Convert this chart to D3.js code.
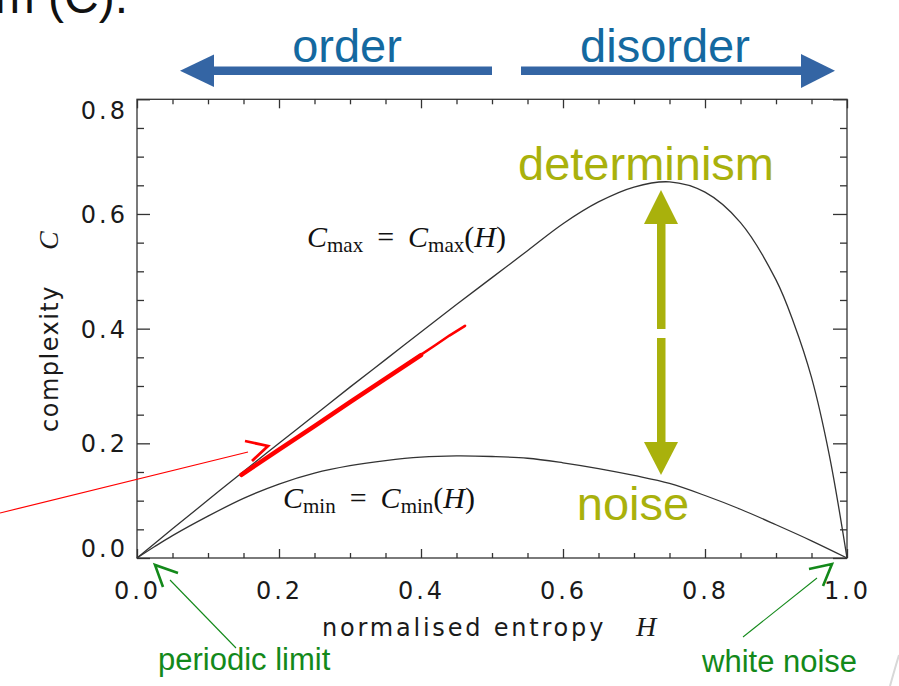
<!DOCTYPE html>
<html><head><meta charset="utf-8">
<script src="https://cdn.jsdelivr.net/npm/d3@7"></script>
<style>body{margin:0;background:#fff}svg{display:block}</style>
</head><body>
<svg id="c" width="899" height="686"></svg>
<script>
// ---- data ----
const cmaxH = [0, 0.05, 0.1, 0.15, 0.2, 0.25, 0.3, 0.35, 0.4, 0.45, 0.5, 0.55, 0.6, 0.65, 0.7, 0.75, 0.8, 0.85, 0.9, 0.925, 0.95, 0.975, 1.0];
const cmaxC = [0, 0.051, 0.101, 0.151, 0.200, 0.249, 0.298, 0.346, 0.394, 0.442, 0.489, 0.536, 0.583, 0.621, 0.647, 0.656, 0.638, 0.585, 0.485, 0.410, 0.315, 0.180, 0];
const cminH = [0, 0.025, 0.05, 0.1, 0.15, 0.2, 0.25, 0.3, 0.35, 0.4, 0.45, 0.5, 0.55, 0.6, 0.65, 0.7, 0.75, 0.8, 0.85, 0.9, 0.95, 1.0];
const cminC = [0, 0.020, 0.039, 0.073, 0.104, 0.129, 0.148, 0.161, 0.170, 0.176, 0.178, 0.177, 0.174, 0.166, 0.156, 0.144, 0.130, 0.109, 0.085, 0.058, 0.030, 0];
const redH = [0.147, 0.2, 0.25, 0.3, 0.35, 0.4];
const redC = [0.145, 0.189, 0.230, 0.272, 0.313, 0.354];
const redTipH = [0.38, 0.42, 0.44, 0.462];
const redTipC = [0.338, 0.371, 0.388, 0.405];
const xMajor = [0, 0.2, 0.4, 0.6, 0.8, 1.0];
const xLabels = ["0.0", "0.2", "0.4", "0.6", "0.8", "1.0"];
const yMajor = [0, 0.2, 0.4, 0.6, 0.8];
const yLabels = ["0.0", "0.2", "0.4", "0.6", "0.8"];
const minorStep = 0.05;

// ---- layout ----
const svg = d3.select("#c");
const x = d3.scaleLinear().domain([0, 1]).range([137, 847]);
const y = d3.scaleLinear().domain([0, 0.8]).range([558, 99.3]);
const xMinor = d3.range(0, 1.0001, minorStep).filter(v => !xMajor.some(m => Math.abs(m - v) < 1e-6));
const yMinor = d3.range(0, 0.8001, minorStep).filter(v => !yMajor.some(m => Math.abs(m - v) < 1e-6));
const axisCol = "#333";

// top-left cut-off text (cut off in the source picture too)
svg.append("text").attr("x", 128).attr("y", 13).attr("text-anchor", "end")
  .attr("font-family", "Liberation Sans, Arial, sans-serif").attr("font-size", 48).attr("fill", "#111")
  .text("um (C).");

// frame
svg.append("rect").attr("x", 137).attr("y", 99.3).attr("width", 710).attr("height", 558 - 99.3)
  .attr("fill", "none").attr("stroke", axisCol).attr("stroke-width", 1.3);

const tickFont = "DejaVu Sans, Verdana, sans-serif";
function styleAxis(g) {
  g.select(".domain").remove();
  g.selectAll("line").attr("stroke", axisCol).attr("stroke-width", 1.3);
  g.selectAll("text").attr("font-family", tickFont).attr("font-size", 24).attr("fill", "#1a1a1a").attr("letter-spacing", "3px");
}
// bottom
svg.append("g").attr("transform", "translate(0,558)")
  .call(d3.axisBottom(x).tickValues(xMajor).tickFormat((d, i) => xLabels[i]).tickSizeInner(-9).tickSizeOuter(0).tickPadding(24))
  .call(styleAxis);
svg.append("g").attr("transform", "translate(0,558)")
  .call(d3.axisBottom(x).tickValues(xMinor).tickFormat("").tickSizeInner(-5).tickSizeOuter(0)).call(styleAxis);
// top
svg.append("g").attr("transform", "translate(0,99.3)")
  .call(d3.axisTop(x).tickValues(xMajor).tickFormat("").tickSizeInner(-9).tickSizeOuter(0)).call(styleAxis);
svg.append("g").attr("transform", "translate(0,99.3)")
  .call(d3.axisTop(x).tickValues(xMinor).tickFormat("").tickSizeInner(-5).tickSizeOuter(0)).call(styleAxis);
// left
const yl = svg.append("g").attr("transform", "translate(137,0)")
  .call(d3.axisLeft(y).tickValues(yMajor).tickFormat((d, i) => yLabels[i]).tickSizeInner(-13).tickSizeOuter(0).tickPadding(9))
  .call(styleAxis);
yl.selectAll(".tick text").attr("dy", d => d === 0.8 ? "0.8em" : d === 0 ? "-0.05em" : "0.35em");
svg.append("g").attr("transform", "translate(137,0)")
  .call(d3.axisLeft(y).tickValues(yMinor).tickFormat("").tickSizeInner(-7).tickSizeOuter(0)).call(styleAxis);
// right
svg.append("g").attr("transform", "translate(847,0)")
  .call(d3.axisRight(y).tickValues(yMajor).tickFormat("").tickSizeInner(-14).tickSizeOuter(0)).call(styleAxis);
svg.append("g").attr("transform", "translate(847,0)")
  .call(d3.axisRight(y).tickValues(yMinor).tickFormat("").tickSizeInner(-7).tickSizeOuter(0)).call(styleAxis);

// axis titles
const xt = svg.append("text").attr("x", 322).attr("y", 636).attr("font-family", tickFont).attr("font-size", 24)
  .attr("fill", "#1a1a1a").attr("letter-spacing", "2.8px");
xt.append("tspan").text("normalised entropy");
xt.append("tspan").attr("x", 636).attr("font-family", "Liberation Serif, Times New Roman, serif").attr("font-style", "italic")
  .attr("font-size", 28).attr("letter-spacing", "0px").text("H");
const yt = svg.append("text").attr("transform", "translate(58,432) rotate(-90)").attr("font-family", tickFont)
  .attr("font-size", 24).attr("fill", "#1a1a1a").attr("letter-spacing", "1.5px");
yt.append("tspan").text("complexity");
yt.append("tspan").attr("x", 182).attr("font-family", "Liberation Serif, Times New Roman, serif").attr("font-style", "italic")
  .attr("font-size", 28).attr("letter-spacing", "0px").text("C");

// curves
const line = d3.line().x(d => x(d[0])).y(d => y(d[1])).curve(d3.curveCatmullRom.alpha(0.5));
svg.append("path").attr("d", line(cmaxH.map((h, i) => [h, cmaxC[i]])))
  .attr("fill", "none").attr("stroke", "#333").attr("stroke-width", 1.3);
svg.append("path").attr("d", line(cminH.map((h, i) => [h, cminC[i]])))
  .attr("fill", "none").attr("stroke", "#333").attr("stroke-width", 1.3);

// red data band
const lineL = d3.line().x(d => x(d[0])).y(d => y(d[1]));
svg.append("path").attr("d", lineL(redH.map((h, i) => [h, redC[i]])))
  .attr("fill", "none").attr("stroke", "#f00").attr("stroke-width", 4.5).attr("stroke-linecap", "round");
svg.append("path").attr("d", lineL(redTipH.map((h, i) => [h, redTipC[i]])))
  .attr("fill", "none").attr("stroke", "#f00").attr("stroke-width", 2.6).attr("stroke-linecap", "round");

// curve labels (math)
const serif = "Liberation Serif, Times New Roman, serif";
function mathLabel(px, py, sub) {
  const t = svg.append("text").attr("x", px).attr("y", py).attr("font-family", serif).attr("font-size", 30).attr("fill", "#111");
  t.append("tspan").attr("font-style", "italic").text("C");
  t.append("tspan").attr("font-size", 21).attr("dy", 5).text(sub);
  t.append("tspan").attr("dy", -5).attr("dx", 14).text("=");
  t.append("tspan").attr("dx", 14).attr("font-style", "italic").text("C");
  t.append("tspan").attr("font-size", 21).attr("dy", 5).text(sub);
  t.append("tspan").attr("dy", -5).text("(");
  t.append("tspan").attr("font-style", "italic").text("H");
  t.append("tspan").text(")");
}
mathLabel(307, 247, "max");
mathLabel(283, 508, "min");

// top order / disorder arrows
const blue = "#3465a4", blueText = "#1469a0";
svg.append("rect").attr("x", 212).attr("y", 66.5).attr("width", 280).attr("height", 8.5).attr("fill", blue);
svg.append("path").attr("d", "M180,70.7 L214,54.5 L214,87 Z").attr("fill", blue);
svg.append("rect").attr("x", 521).attr("y", 66.5).attr("width", 283).attr("height", 8.5).attr("fill", blue);
svg.append("path").attr("d", "M835,70.7 L801,54 L801,88 Z").attr("fill", blue);
const sans = "Liberation Sans, Arial, sans-serif";
svg.append("text").attr("x", 347).attr("y", 62).attr("text-anchor", "middle").attr("font-family", sans)
  .attr("font-size", 47).attr("fill", blueText).text("order");
svg.append("text").attr("x", 665).attr("y", 62).attr("text-anchor", "middle").attr("font-family", sans)
  .attr("font-size", 47).attr("fill", blueText).text("disorder");

// determinism / noise
const olive = "#a9b10c";
svg.append("text").attr("x", 646).attr("y", 180).attr("text-anchor", "middle").attr("font-family", sans)
  .attr("font-size", 47).attr("fill", olive).text("determinism");
svg.append("text").attr("x", 633).attr("y", 520).attr("text-anchor", "middle").attr("font-family", sans)
  .attr("font-size", 47).attr("fill", olive).text("noise");
svg.append("path").attr("d", "M661,190 L678,224 L644,224 Z").attr("fill", olive);
svg.append("rect").attr("x", 657).attr("y", 223).attr("width", 8.5).attr("height", 106).attr("fill", olive);
svg.append("rect").attr("x", 657).attr("y", 338).attr("width", 8.5).attr("height", 105).attr("fill", olive);
svg.append("path").attr("d", "M661,475 L678,442 L644,442 Z").attr("fill", olive);

// red pointer
svg.append("line").attr("x1", 0).attr("y1", 513).attr("x2", 248).attr("y2", 452).attr("stroke", "#f00").attr("stroke-width", 1.2);
svg.append("path").attr("d", "M245,441 L268,446 L252,461").attr("fill", "none").attr("stroke", "#f00").attr("stroke-width", 2.8);

// green annotations
const green = "#13891a";
svg.append("path").attr("d", "M178,573 L155,565 L163,587").attr("fill", "none").attr("stroke", green).attr("stroke-width", 2.6);
svg.append("line").attr("x1", 170).attr("y1", 580).attr("x2", 236).attr("y2", 648).attr("stroke", green).attr("stroke-width", 1.1);
svg.append("path").attr("d", "M809,569 L832,564 L823,586").attr("fill", "none").attr("stroke", green).attr("stroke-width", 2.6);
svg.append("line").attr("x1", 817).attr("y1", 578).attr("x2", 743).attr("y2", 637).attr("stroke", green).attr("stroke-width", 1.1);
svg.append("text").attr("x", 158).attr("y", 670).attr("font-family", sans).attr("font-size", 31).attr("fill", green).text("periodic limit");
svg.append("text").attr("x", 702).attr("y", 672).attr("font-family", sans).attr("font-size", 31).attr("fill", green).text("white noise");

// faint corner arc
svg.append("path").attr("d", "M890,686 Q895,668 899,655").attr("fill", "none").attr("stroke", "#d8d8d8").attr("stroke-width", 2);
</script>
</body></html>
